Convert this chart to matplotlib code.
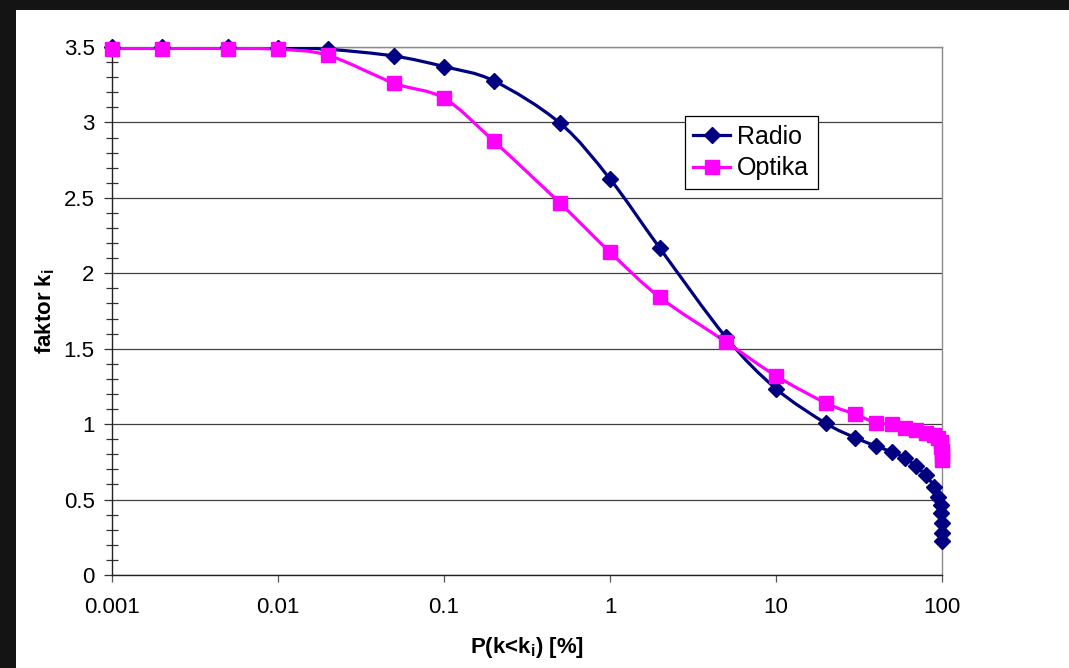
import numpy as np
import matplotlib
matplotlib.use("Agg")
import matplotlib.pyplot as plt
from matplotlib.path import Path
from matplotlib.patches import PathPatch, Rectangle
from matplotlib.lines import Line2D
from matplotlib.ticker import MultipleLocator, FixedLocator, FixedFormatter

plt.rcParams['font.family'] = ['Liberation Sans', 'DejaVu Sans']
plt.rcParams['mathtext.fontset'] = 'custom'
plt.rcParams['mathtext.rm'] = 'Liberation Sans'
plt.rcParams['mathtext.bf'] = 'Liberation Sans:bold'

# data
x_radio = [0.001, 0.002, 0.005, 0.01, 0.02, 0.05, 0.1, 0.2, 0.5, 1, 2, 5, 10,
           20, 30, 40, 50, 60, 70, 80, 90, 95, 98, 99, 99.5, 99.9, 99.99]
y_radio = [3.50, 3.50, 3.50, 3.495, 3.485, 3.44, 3.37, 3.275, 2.995, 2.625,
           2.165, 1.575, 1.235, 1.005, 0.91, 0.855, 0.815, 0.775, 0.72, 0.66,
           0.585, 0.52, 0.465, 0.41, 0.345, 0.28, 0.225]

x_optika = [0.001, 0.002, 0.005, 0.01, 0.02, 0.05, 0.1, 0.2, 0.5, 1, 2, 5, 10,
            20, 30, 40, 50, 60, 70, 80, 90, 95, 98, 99, 99.5, 99.9, 99.99]
y_optika = [3.49, 3.49, 3.49, 3.485, 3.445, 3.26, 3.16, 2.875, 2.465, 2.14,
            1.84, 1.545, 1.32, 1.14, 1.065, 1.01, 1.0, 0.975, 0.96, 0.94,
            0.925, 0.905, 0.88, 0.85, 0.82, 0.79, 0.76]

x_ticks = [0.001, 0.01, 0.1, 1, 10, 100]
x_ticklabels = ['0.001', '0.01', '0.1', '1', '10', '100']
y_ticks = [0, 0.5, 1, 1.5, 2, 2.5, 3, 3.5]
y_ticklabels = ['0', '0.5', '1', '1.5', '2', '2.5', '3', '3.5']

RADIO_COLOR = '#000080'
OPTIKA_COLOR = '#FF00FF'


def smooth_path(x, y):
    # catmull-rom through the points in (log x, y), like excel's smoothed line
    pts = np.column_stack([np.log10(x), np.asarray(y, float)])
    n = len(pts)
    verts = [pts[0]]
    codes = [Path.MOVETO]
    for i in range(n - 1):
        p0 = pts[max(i - 1, 0)]
        p1 = pts[i]
        p2 = pts[i + 1]
        p3 = pts[min(i + 2, n - 1)]
        verts += [p1 + (p2 - p0) / 6, p2 - (p3 - p1) / 6, p2]
        codes += [Path.CURVE4] * 3
    verts = np.array(verts)
    verts[:, 0] = 10 ** verts[:, 0]
    return Path(verts, codes)


fig = plt.figure(figsize=(10.69, 6.68), dpi=100)
fig.patch.set_facecolor('#141414')
fig.patches.append(Rectangle((16 / 1069, 0), 1 - 16 / 1069, 1 - 10 / 668,
                             transform=fig.transFigure, facecolor='white',
                             edgecolor='none', zorder=-1))

ax = fig.add_axes([112 / 1069, 93 / 668, 830 / 1069, 528 / 668])
ax.set_xscale('log')
ax.set_xlim(0.001, 100)
ax.set_ylim(0, 3.5)

for xs, ys, col, mk, ms in [(x_radio, y_radio, RADIO_COLOR, 'D', 8.5),
                            (x_optika, y_optika, OPTIKA_COLOR, 's', 10)]:
    ax.add_patch(PathPatch(smooth_path(xs, ys), facecolor='none',
                           edgecolor=col, lw=2.3, zorder=3))
    ax.plot(xs, ys, linestyle='none', marker=mk, markersize=ms, color=col,
            markeredgecolor=col, clip_on=False, zorder=4)

ax.xaxis.set_major_locator(FixedLocator(x_ticks))
ax.xaxis.set_major_formatter(FixedFormatter(x_ticklabels))
ax.xaxis.set_minor_locator(FixedLocator([]))
ax.yaxis.set_major_locator(FixedLocator(y_ticks))
ax.yaxis.set_major_formatter(FixedFormatter(y_ticklabels))
ax.yaxis.set_minor_locator(MultipleLocator(0.1))

ax.tick_params(axis='x', which='major', direction='out', length=5, width=0.9,
               color='#555555', labelsize=16, pad=11)
ax.tick_params(axis='y', which='major', direction='out', length=5.5, width=0.9,
               color='#333333', labelsize=16, pad=7)
ax.tick_params(axis='y', which='minor', direction='inout', length=8, width=0.9,
               color='#333333')

ax.grid(True, axis='y', which='major', color='#404040', lw=0.9)
ax.set_axisbelow(True)
for side in ['left', 'bottom']:
    ax.spines[side].set_color('#222222')
    ax.spines[side].set_linewidth(1.0)
for side in ['top', 'right']:
    ax.spines[side].set_color('#8a8a8a')
    ax.spines[side].set_linewidth(1.0)

ax.set_xlabel(r'P(k<k$_\mathbf{i}$) [%]', fontsize=16, fontweight='bold',
              labelpad=12)
ax.set_ylabel(r'faktor k$_\mathbf{i}$', fontsize=16, fontweight='bold',
              labelpad=5)

handles = [Line2D([], [], color=RADIO_COLOR, lw=2.3, marker='D', markersize=8.5),
           Line2D([], [], color=OPTIKA_COLOR, lw=2.3, marker='s', markersize=10)]
leg = ax.legend(handles, ['Radio', 'Optika'], loc='upper left',
                bbox_to_anchor=(0.690, 0.869), borderaxespad=0, fontsize=18,
                fancybox=False, framealpha=1, edgecolor='black',
                handlelength=1.45, handletextpad=0.3, borderpad=0.35,
                labelspacing=0.3, numpoints=1)
leg.get_frame().set_linewidth(0.9)

fig.savefig('out.png', dpi=100, facecolor=fig.get_facecolor())
